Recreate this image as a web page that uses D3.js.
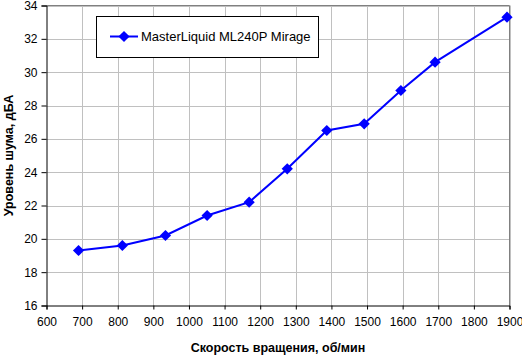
<!DOCTYPE html>
<html><head><meta charset="utf-8">
<script src="https://cdn.jsdelivr.net/npm/d3@7"></script>
<style>body{margin:0;background:#fff}svg{display:block}text{font-family:Arial,"Liberation Sans",sans-serif}</style>
</head><body>
<svg id="c" width="522" height="356"></svg>
<script>
const speeds = [690, 813, 934, 1051, 1169, 1276, 1387, 1492, 1595, 1691, 1893];
const noise = [19.3, 19.6, 20.2, 21.4, 22.2, 24.2, 26.5, 26.9, 28.9, 30.6, 33.3];
const seriesName = "MasterLiquid ML240P Mirage";
const xTicks = [600,700,800,900,1000,1100,1200,1300,1400,1500,1600,1700,1800,1900];
const yTicks = [16,18,20,22,24,26,28,30,32,34];
const xTitle = "Скорость вращения, об/мин";
const yTitle = "Уровень шума, дБА";

const svg = d3.select("#c");
const L = 46.5, R = 509.5, T = 5.5, B = 305.5;
const x = d3.scaleLinear().domain([600,1900]).range([L,R]);
const y = d3.scaleLinear().domain([16,34]).range([B,T]);

// gridlines
svg.append("g").selectAll("line").data(xTicks.slice(1)).join("line")
  .attr("x1",d=>Math.round(x(d))+0.5).attr("x2",d=>Math.round(x(d))+0.5)
  .attr("y1",T).attr("y2",B).attr("stroke","#c0c0c0");
svg.append("g").selectAll("line").data(yTicks.slice(1)).join("line")
  .attr("y1",d=>Math.round(y(d))+0.5).attr("y2",d=>Math.round(y(d))+0.5)
  .attr("x1",L).attr("x2",R).attr("stroke","#c0c0c0");
// top & right border
svg.append("path").attr("d",`M${L},${T}H${R}V${B}`).attr("fill","none").attr("stroke","#808080");

// axes
const xAxis = svg.append("g").attr("transform",`translate(0,${B})`)
  .call(d3.axisBottom(x).tickValues(xTicks).tickFormat(d3.format("d")).tickSize(4).tickPadding(8));
const yAxis = svg.append("g").attr("transform",`translate(${L},0)`)
  .call(d3.axisLeft(y).tickValues(yTicks).tickFormat(d3.format("d")).tickSize(5).tickPadding(4));
[xAxis,yAxis].forEach(a=>{
  a.selectAll("path").attr("stroke","#000");
  a.selectAll("line").attr("stroke","#000");
  a.selectAll("text").attr("font-size","12px").attr("fill","#000").attr("font-family","Arial, 'Liberation Sans', sans-serif");
});

// line
const line = d3.line().x((d,i)=>x(speeds[i])).y(d=>y(d));
svg.append("path").datum(noise).attr("d",line).attr("fill","none")
  .attr("stroke","#0000ff").attr("stroke-width",2);
const diamond = d3.symbol().type(d3.symbolDiamond2).size(80);
svg.append("g").selectAll("path").data(noise).join("path")
  .attr("transform",(d,i)=>`translate(${x(speeds[i])},${y(d)})`)
  .attr("d",diamond).attr("fill","#0000ff");

// legend
const lg = svg.append("g");
lg.append("rect").attr("x",96.5).attr("y",16.5).attr("width",222).attr("height",41)
  .attr("fill","#fff").attr("stroke","#000");
lg.append("line").attr("x1",110).attr("x2",138).attr("y1",36.5).attr("y2",36.5)
  .attr("stroke","#0000ff").attr("stroke-width",2);
lg.append("path").attr("transform","translate(124,36.5)").attr("d",diamond).attr("fill","#0000ff");
lg.append("text").attr("x",141).attr("y",41).attr("font-size","13px").text(seriesName);

// titles
svg.append("text").attr("x",(L+R)/2).attr("y",352).attr("text-anchor","middle")
  .attr("font-size","12.5px").attr("font-weight","bold").text(xTitle);
svg.append("text").attr("transform",`translate(13,${(T+B)/2}) rotate(-90)`).attr("text-anchor","middle")
  .attr("font-size","12.5px").attr("font-weight","bold").text(yTitle);
</script>
</body></html>
